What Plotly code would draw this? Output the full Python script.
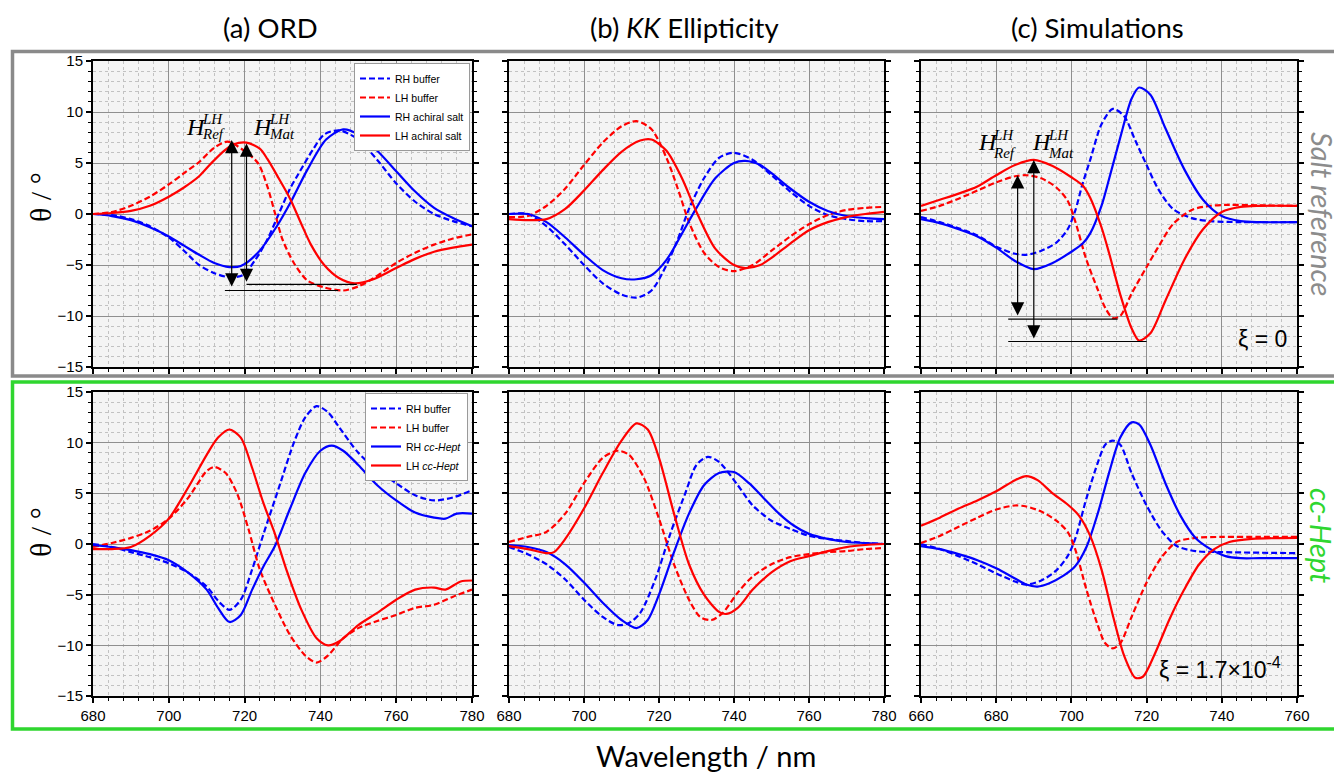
import plotly.graph_objects as go

# ---------------- DATA ----------------
# Panel (a) ORD, salt reference
a1_rhb_wl = [680,685,690,695,700,704,708,712,716,719.5,723,726,729,732,734,738,741,745,750,755,760,765,770,775,780]
a1_rhb    = [0,-0.1,-0.5,-1.2,-2.3,-3.6,-5.0,-5.8,-6.2,-6.0,-4.4,-2.5,0.0,2.5,3.8,6.3,7.8,8.2,7.3,5.3,3.0,1.2,0.0,-0.7,-1.2]
a1_lhb_wl = [680,685,690,695,700,704,708,712,715.5,719.5,723.5,726,728,730,733,736.5,741,746,750,754,760,765,770,775,780]
a1_lhb    = [0,0.2,0.8,1.7,2.9,4.0,5.1,6.5,7.1,6.3,5.0,2.7,0.1,-2.5,-4.8,-6.5,-7.2,-7.5,-7.1,-6.3,-4.8,-3.8,-3.0,-2.4,-2.0]
a1_rhs_wl = [680,685,690,695,700,704,708,712,716,719,723.5,728.5,732.5,736.5,741.5,746,750,755,760,765,770,775,780]
a1_rhs    = [0,-0.2,-0.6,-1.3,-2.2,-3.1,-4.0,-4.8,-5.2,-5.1,-3.8,-1.2,1.4,4.3,7.3,8.3,7.8,6.2,4.2,2.2,0.6,-0.4,-1.2]
a1_lhs_wl = [680,685,690,695,700,704,708,711,714,717,720.5,724,726,729,732,735,737.5,741,745,749,754,760,765,770,775,780]
a1_lhs    = [0,0.1,0.3,0.8,1.7,2.6,3.7,4.9,6.0,6.8,7.0,6.4,5.4,3.5,1.5,-1.0,-3.0,-5.0,-6.3,-6.8,-6.4,-5.3,-4.4,-3.7,-3.3,-3.0]

# Panel (b) KK ellipticity, salt reference
b1_rhb_wl = [680,685,690,695,700,705,710,714,718,722,725,728,732,736,740,745,750,755,760,765,770,775,780]
b1_rhb    = [0,0.0,-1.2,-3.0,-5.0,-6.8,-7.9,-8.2,-7.5,-5.0,-2.5,0.5,3.5,5.5,6.0,5.3,3.8,2.2,0.8,-0.1,-0.5,-0.7,-0.7]
b1_lhb_wl = [680,685,690,695,700,705,710,714,718,722,725,728,732,736,740,745,750,755,760,765,770,775,780]
b1_lhb    = [-0.3,-0.2,0.8,2.5,4.8,7.0,8.6,9.1,8.3,5.5,2.5,-0.8,-3.8,-5.2,-5.6,-5.0,-3.6,-2.2,-1.0,-0.1,0.4,0.6,0.7]
b1_rhs_wl = [680,685,690,695,700,705,710,714,718,722,726,730,735,740,743,747,750,755,760,765,770,775,780]
b1_rhs    = [0,0.0,-0.8,-2.3,-4.0,-5.5,-6.3,-6.4,-6.0,-4.5,-2.0,0.6,3.5,5.0,5.2,4.8,4.0,2.5,1.2,0.3,-0.2,-0.4,-0.5]
b1_lhs_wl = [680,685,690,695,700,705,710,715,718,722,726,730,735,740,743,747,750,755,760,765,770,775,780]
b1_lhs    = [-0.5,-0.6,-0.5,0.5,2.3,4.3,6.1,7.2,7.3,6.2,3.6,0.2,-3.4,-5.0,-5.3,-5.0,-4.3,-2.9,-1.6,-0.8,-0.3,0.0,0.2]

# Panel (c) simulations, salt reference (xi = 0)
c1_rhb_wl = [660,665,670,675,680,685,688,692,696,699,701,703,705,708,711,714,717,720,723,727,732,737,745,760]
c1_rhb    = [-0.3,-0.8,-1.4,-2.1,-3.2,-3.9,-4.0,-3.6,-2.8,-1.5,0.3,3.0,5.3,8.8,10.3,9.6,7.2,4.8,2.5,0.5,-0.4,-0.7,-0.8,-0.8]
c1_lhb_wl = [660,665,670,675,680,685,688,692,696,699,701,704,707,709,711,713,716,720,723,727,732,737,742,750,760]
c1_lhb    = [0.3,0.8,1.5,2.3,3.1,3.7,3.8,3.5,2.6,1.3,-0.7,-4.5,-7.4,-9.2,-10.2,-10.0,-7.8,-5.2,-3.3,-1.0,0.4,0.8,0.9,0.85,0.8]
c1_rhs_wl = [660,665,670,675,680,685,690,695,700,703,705,708,710,713,716,718,721,725,730,735,740,745,750,760]
c1_rhs    = [-0.5,-0.9,-1.5,-2.2,-3.3,-4.6,-5.4,-4.8,-3.7,-2.9,-1.9,0.8,3.4,7.5,11.3,12.4,11.7,8.4,4.4,1.4,-0.2,-0.7,-0.8,-0.8]
c1_lhs_wl = [660,665,670,675,680,685,690,695,700,703,705,708,710,713,716,718,721,725,730,735,740,745,750,760]
c1_lhs    = [0.8,1.4,2.0,2.7,3.8,4.8,5.3,4.7,3.6,2.8,1.6,-1.3,-3.8,-7.9,-11.2,-12.4,-11.7,-8.5,-4.5,-1.5,0.2,0.7,0.8,0.8]

# Panel (a) ORD, cc-Hept
a2_rhb_wl = [680,685,690,695,700,705,710,713,716,719,722,725,729,733,736,739,742,745,750,755,760,765,770,775,780]
a2_rhb    = [0,-0.3,-0.8,-1.3,-1.9,-2.8,-4.2,-5.6,-6.5,-5.5,-2.5,1.0,5.5,10.0,12.5,13.6,13.0,11.5,9.0,7.3,6.0,4.8,4.3,4.6,5.3]
a2_lhb_wl = [680,685,690,695,700,705,710,712,715,718,721,724,728,732,736,739,742,746,750,755,760,765,770,775,780]
a2_lhb    = [-0.3,0.1,0.6,1.3,2.5,4.5,7.2,7.6,7.0,5.0,1.5,-2.5,-6.0,-9.0,-11.0,-11.7,-11.0,-9.3,-8.3,-7.6,-7.0,-6.3,-6.0,-5.2,-4.5]
a2_rhs_wl = [680,685,690,695,700,705,710,713,716,719,722,725,728,732,736,740,743,746,750,755,760,765,770,773,776,780]
a2_rhs    = [-0.1,-0.3,-0.6,-1.0,-1.6,-2.8,-4.5,-6.3,-7.7,-7.0,-4.5,-2.2,-0.2,3.5,7.0,9.2,9.7,9.2,7.8,5.8,4.3,3.1,2.6,2.5,3.0,3.0]
a2_lhs_wl = [680,685,690,695,700,705,710,713,716,719,722,725,728,731,735,739,742,745,750,755,760,765,770,773,777,780]
a2_lhs    = [-0.5,-0.5,-0.3,0.8,2.5,5.5,8.8,10.5,11.3,10.5,7.5,4.0,1.0,-2.5,-6.5,-9.3,-10.0,-9.6,-8.0,-6.8,-5.5,-4.5,-4.3,-4.5,-3.7,-3.6]

# Panel (b) KK ellipticity, cc-Hept
b2_rhb_wl = [680,685,690,695,700,705,709,712,715,719,723,727,730,733,736,741,745,750,755,760,765,770,775,780]
b2_rhb    = [-0.3,-1.0,-2.0,-3.5,-5.5,-7.2,-8.0,-7.8,-6.8,-3.5,1.0,5.0,7.8,8.6,8.1,5.8,3.8,2.3,1.5,0.8,0.5,0.3,0.1,0.0]
b2_lhb_wl = [680,685,690,695,700,705,709,712,716,720,724,728,731,734,737,741,745,750,755,760,765,770,775,780]
b2_lhb    = [0.2,0.7,1.2,3.0,6.0,8.5,9.2,8.8,6.5,2.5,-2.0,-5.5,-7.2,-7.5,-6.8,-4.8,-3.2,-2.0,-1.3,-1.0,-0.8,-0.7,-0.5,-0.4]
b2_rhs_wl = [680,685,690,695,700,705,710,714,717,720,724,728,732,736,740,744,748,752,756,760,765,770,775,780]
b2_rhs    = [-0.1,-0.3,-0.8,-2.0,-3.8,-5.8,-7.5,-8.3,-7.5,-5.0,-0.8,3.0,5.8,7.0,7.1,6.0,4.5,3.0,1.8,1.0,0.5,0.2,0.1,0.0]
b2_lhs_wl = [680,685,690,692,695,700,705,710,714,717,720,724,728,732,736,738,741,745,750,755,760,765,770,775,780]
b2_lhs    = [-0.2,-0.5,-0.9,-0.8,0.5,3.5,7.0,10.2,11.9,11.3,8.5,3.0,-2.0,-5.0,-6.7,-6.9,-6.3,-4.5,-2.8,-1.7,-1.2,-0.7,-0.3,-0.1,0.0]

# Panel (c) simulations, cc-Hept (xi = 1.7e-4)
c2_rhb_wl = [660,665,670,675,680,685,688,692,696,699,701,704,707,709,711,713,716,720,724,728,733,740,760]
c2_rhb    = [0.0,-0.5,-1.2,-2.0,-2.9,-3.7,-4.0,-3.6,-2.6,-1.2,0.5,4.5,8.0,9.8,10.2,9.8,7.0,3.8,1.3,-0.2,-0.7,-0.8,-0.9]
c2_lhb_wl = [660,665,670,675,680,685,688,692,696,699,701,704,707,709,711,713,716,720,724,728,733,740,750,760]
c2_lhb    = [0.1,0.8,1.7,2.6,3.4,3.8,3.7,3.2,2.3,1.2,-0.5,-4.5,-8.0,-9.8,-10.3,-9.8,-7.2,-3.8,-1.3,0.2,0.6,0.7,0.7,0.7]
c2_rhs_wl = [660,665,670,675,680,685,688,691,694,698,701,704,707,710,713,716,718,721,725,729,733,737,741,745,750,760]
c2_rhs    = [-0.2,-0.5,-1.0,-1.6,-2.4,-3.4,-4.0,-4.2,-3.9,-3.1,-2.2,-0.3,3.0,7.0,10.5,12.0,11.8,9.8,6.0,2.8,0.6,-0.5,-1.2,-1.4,-1.4,-1.4]
c2_lhs_wl = [660,665,670,675,680,685,688,691,695,699,702,705,708,711,714,717,719,722,726,730,734,738,742,748,760]
c2_lhs    = [1.8,2.6,3.5,4.3,5.2,6.3,6.7,6.3,5.0,3.9,2.8,0.8,-2.5,-7.0,-11.0,-13.2,-13.1,-11.0,-7.5,-4.5,-2.0,-0.5,0.2,0.5,0.6]

# Annotation arrows (wavelength, top value, bottom value) and guide lines
ord_arrow_x   = [716.6, 720.5]
ord_arrow_top = [7.25, 6.9]
ord_arrow_bot = [-7.25, -6.8]
ord_hline_y   = [-7.5, -6.9]
ord_hline_x0  = [714.8, 720.5]
ord_hline_x1  = [744.7, 749.6]

sim_arrow_x   = [685.7, 690.0]
sim_arrow_top = [3.8, 5.3]
sim_arrow_bot = [-10.1, -12.35]
sim_hline_y   = [-10.3, -12.5]
sim_hline_x0  = [683.2, 683.2]
sim_hline_x1  = [712.3, 720.0]

col_titles = ["(a) ORD", "(b) <i>KK</i> Ellipticity", "(c) Simulations"]
x_ranges = [[680, 780], [680, 780], [660, 760]]
legend_names_top = ["RH buffer", "LH buffer", "RH achiral salt", "LH achiral salt"]
legend_names_bot = ["RH buffer", "LH buffer", "RH <i>cc-Hept</i>", "LH <i>cc-Hept</i>"]

# ---------------- FIGURE ----------------
OFF = 8                      # page body margin offset
W, H = 1342 - OFF, 772 - OFF
BLUE, RED = "#0000ff", "#ff0000"
GREEN = "#2fd62f"
GRAY = "#8a8a8a"
DASH = "6px,3px"

def px_x(p):
    return (p - OFF) / W

def px_y(p):
    return 1 - (p - OFF) / H

x_dom = [[93, 472], [509, 884], [921, 1297]]
y_dom = [[61, 367], [392, 696]]

fig = go.Figure()

panels = [
    [(a1_rhb_wl, a1_rhb), (a1_lhb_wl, a1_lhb), (a1_rhs_wl, a1_rhs), (a1_lhs_wl, a1_lhs)],
    [(b1_rhb_wl, b1_rhb), (b1_lhb_wl, b1_lhb), (b1_rhs_wl, b1_rhs), (b1_lhs_wl, b1_lhs)],
    [(c1_rhb_wl, c1_rhb), (c1_lhb_wl, c1_lhb), (c1_rhs_wl, c1_rhs), (c1_lhs_wl, c1_lhs)],
    [(a2_rhb_wl, a2_rhb), (a2_lhb_wl, a2_lhb), (a2_rhs_wl, a2_rhs), (a2_lhs_wl, a2_lhs)],
    [(b2_rhb_wl, b2_rhb), (b2_lhb_wl, b2_lhb), (b2_rhs_wl, b2_rhs), (b2_lhs_wl, b2_lhs)],
    [(c2_rhb_wl, c2_rhb), (c2_lhb_wl, c2_lhb), (c2_rhs_wl, c2_rhs), (c2_lhs_wl, c2_lhs)],
]
styles = [(BLUE, DASH), (RED, DASH), (BLUE, "solid"), (RED, "solid")]

MINOR_GRID = dict(showgrid=True, gridcolor="#c2c2c2", griddash="3px,3px", gridwidth=1,
                  ticks="outside", ticklen=3, tickcolor="black", tickwidth=1)

for k, curves in enumerate(panels):
    r, c = divmod(k, 3)
    idx = k + 1
    xa = "x" if idx == 1 else f"x{idx}"
    ya = "y" if idx == 1 else f"y{idx}"
    names = legend_names_top if r == 0 else legend_names_bot
    for j, ((wl, val), (col, dash)) in enumerate(zip(curves, styles)):
        fig.add_trace(go.Scatter(
            x=wl, y=val, mode="lines", name=names[j],
            line=dict(color=col, width=2.2, dash=dash, shape="spline", smoothing=0.8),
            xaxis=xa, yaxis=ya,
            showlegend=(c == 0),
            legend="legend" if r == 0 else "legend2",
        ))

    axis_common = dict(
        showline=True, linecolor="black", linewidth=2, automargin=False,
        ticks="outside", tickcolor="black", tickwidth=1.5, ticklen=5,
        showgrid=True, gridcolor="#8f8f8f", gridwidth=1, zeroline=False,
        tickfont=dict(family="Liberation Sans, Arial", size=15, color="black"),
    )
    fig.layout[f"xaxis{idx}"] = dict(
        axis_common, domain=[px_x(x_dom[c][0]), px_x(x_dom[c][1])],
        range=x_ranges[c], anchor=ya, mirror=True, dtick=20, tick0=0,
        showticklabels=(r == 1),
        minor=dict(MINOR_GRID, dtick=4, tick0=0),
    )
    fig.layout[f"yaxis{idx}"] = dict(
        axis_common, domain=[px_y(y_dom[r][1]), px_y(y_dom[r][0])],
        range=[-15, 15], anchor=xa, mirror="allticks", dtick=5, tick0=0,
        showticklabels=(c == 0),
        minor=dict(MINOR_GRID, dtick=1, tick0=0),
    )

# Arrows + guide lines
def add_arrows(xref, yref, ax_list, top_list, bot_list, hy, hx0, hx1):
    for x, yt, yb in zip(ax_list, top_list, bot_list):
        fig.add_annotation(x=x, y=yt, ax=x, ay=yb, xref=xref, yref=yref,
                           axref=xref, ayref=yref, text="", showarrow=True,
                           arrowhead=2, arrowside="end+start", arrowsize=2.2,
                           arrowwidth=1.2, arrowcolor="black", standoff=0, startstandoff=0)
    for y, x0, x1 in zip(hy, hx0, hx1):
        fig.add_shape(type="line", xref=xref, yref=yref, x0=x0, x1=x1, y0=y, y1=y,
                      line=dict(color="black", width=1.2))

add_arrows("x", "y", ord_arrow_x, ord_arrow_top, ord_arrow_bot, ord_hline_y, ord_hline_x0, ord_hline_x1)
add_arrows("x3", "y3", sim_arrow_x, sim_arrow_top, sim_arrow_bot, sim_hline_y, sim_hline_x0, sim_hline_x1)

# H labels
SERIF = "Liberation Serif, Times New Roman, serif"
def h_label(xref, yref, xh, yh, xs, ysup, ysub, sub):
    fig.add_annotation(x=xh, y=yh, xref=xref, yref=yref, text="<i>H</i>", showarrow=False,
                       xanchor="left", yanchor="middle", font=dict(family=SERIF, size=24, color="black"))
    fig.add_annotation(x=xs, y=ysup, xref=xref, yref=yref, text="<i>LH</i>", showarrow=False,
                       xanchor="left", yanchor="middle", font=dict(family=SERIF, size=15, color="black"))
    fig.add_annotation(x=xs, y=ysub, xref=xref, yref=yref, text=f"<i>{sub}</i>", showarrow=False,
                       xanchor="left", yanchor="middle", font=dict(family=SERIF, size=15, color="black"))

h_label("x", "y", 704.0, 8.5, 708.3, 9.3, 7.8, "Ref")
h_label("x", "y", 721.7, 8.5, 725.9, 9.3, 7.8, "Mat")
h_label("x3", "y3", 674.5, 7.05, 678.7, 7.75, 6.0, "Ref")
h_label("x3", "y3", 689.1, 7.05, 693.3, 7.75, 6.0, "Mat")

# xi labels
fig.add_annotation(x=750.7, y=-12.25, xref="x3", yref="y3", text="ξ = 0", showarrow=False,
                   xanchor="center", yanchor="middle",
                   font=dict(family="Liberation Sans, Arial", size=23, color="black"))
fig.add_annotation(x=722.8, y=-12.25, xref="x6", yref="y6", text="ξ = 1.7×10<sup>-4</sup>",
                   showarrow=False, xanchor="left", yanchor="middle",
                   font=dict(family="Liberation Sans, Arial", size=23, color="black"))

# Column titles
TITLE_FONT = "Lato, Open Sans, sans-serif"
for c, t in enumerate(col_titles):
    fig.add_annotation(x=px_x((x_dom[c][0] + x_dom[c][1]) / 2 - 12), y=px_y(28), xref="paper", yref="paper",
                       text=t, showarrow=False, xanchor="center", yanchor="middle",
                       font=dict(family=TITLE_FONT, size=27.5, color="black"))

# Axis titles
fig.add_annotation(x=px_x(706), y=px_y(755), xref="paper", yref="paper", text="Wavelength / nm",
                   showarrow=False, xanchor="center", yanchor="middle",
                   font=dict(family=TITLE_FONT, size=29, color="black"))
for yc in [197, 532]:
    fig.add_annotation(x=px_x(40), y=px_y(yc), xref="paper", yref="paper", text="θ / °",
                       showarrow=False, textangle=-90, xanchor="center", yanchor="middle",
                       font=dict(family=SERIF, size=30, color="black"))

# Row labels on right
fig.add_annotation(x=px_x(1322), y=px_y(214), xref="paper", yref="paper", text="<i>Salt reference</i>",
                   showarrow=False, textangle=90, xanchor="center", yanchor="middle",
                   font=dict(family=TITLE_FONT, size=29, color="#8c8c8c"))
fig.add_annotation(x=px_x(1322), y=px_y(535), xref="paper", yref="paper", text="<i>cc-Hept</i>",
                   showarrow=False, textangle=90, xanchor="center", yanchor="middle",
                   font=dict(family=TITLE_FONT, size=29, color=GREEN))

# Row frames
fig.add_shape(type="rect", xref="paper", yref="paper", x0=px_x(12.5), x1=px_x(1339.5),
              y0=px_y(376), y1=px_y(51.5), line=dict(color=GRAY, width=3.5), layer="below")
fig.add_shape(type="rect", xref="paper", yref="paper", x0=px_x(12.5), x1=px_x(1339.5),
              y0=px_y(729), y1=px_y(382), line=dict(color=GREEN, width=3.5), layer="below")

legend_common = dict(
    bgcolor="white", bordercolor="#9a9a9a", borderwidth=1,
    font=dict(family="Liberation Sans, Arial", size=10.5, color="black"),
    xanchor="right", yanchor="top", itemwidth=30, tracegroupgap=0,
    xref="paper", yref="paper",
)
fig.update_layout(
    width=W, height=H, margin=dict(l=0, r=0, t=0, b=0, autoexpand=False),
    paper_bgcolor="white", plot_bgcolor="#f4f4f4",
    legend=dict(legend_common, x=px_x(470), y=px_y(63)),
    legend2=dict(legend_common, x=px_x(468), y=px_y(393)),
)

fig.write_html("out.html")
